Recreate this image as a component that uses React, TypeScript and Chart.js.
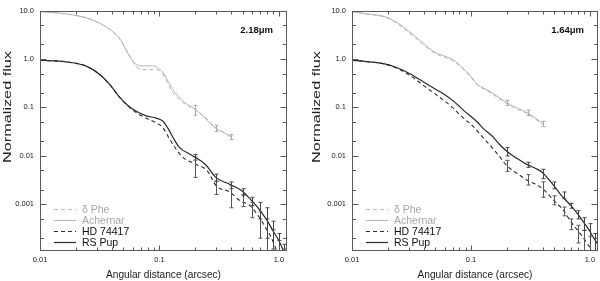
import React, { useEffect, useRef } from 'react';
import { Chart, registerables } from 'chart.js';
Chart.register(...registerables);
Chart.defaults.font.family = '"Liberation Sans", Arial, Helvetica, sans-serif';

// ---- axes ----
const X_MIN = 0.01;
const X_MAX = 1.17;
const Y_MIN = 1.09e-4;
const Y_MAX = 10;
const xTickValues = [0.01, 0.1, 1];
const xTickLabels = ['0.01', '0.1', '1.0'];
const yTickValues = [0.001, 0.01, 0.1, 1, 10];
const yTickLabels = ['0.001', '0.01', '0.1', '1.0', '10.0'];
const seriesLabels = ['δ Phe', 'Achernar', 'HD 74417', 'RS Pup'];
const xTitle = 'Angular distance (arcsec)';
const yTitle = 'Normalized flux';

// ---- 2.18 micron panel ----
const K_phe_x = [0.01, 0.0166, 0.026, 0.0359, 0.0463, 0.056, 0.064, 0.0728, 0.088, 0.1, 0.114, 0.13, 0.158, 0.204, 0.25, 0.3, 0.35, 0.4];
const K_phe_y = [9.5, 8.5, 6.7, 4.5, 2.6, 1.2, 0.7, 0.6, 0.61, 0.58, 0.36, 0.2, 0.125, 0.085, 0.058, 0.037, 0.03, 0.0245];
const K_ach_x = [0.01, 0.0166, 0.026, 0.0359, 0.0463, 0.056, 0.064, 0.0728, 0.088, 0.1, 0.107, 0.122, 0.138, 0.168, 0.204, 0.24, 0.296, 0.35, 0.4];
const K_ach_y = [9.5, 8.5, 6.7, 4.56, 2.66, 1.15, 0.77, 0.72, 0.72, 0.62, 0.53, 0.3, 0.19, 0.12, 0.088, 0.06, 0.037, 0.03, 0.0245];
const K_hd_x = [0.01, 0.0166, 0.0244, 0.0316, 0.0383, 0.0463, 0.0544, 0.064, 0.0776, 0.094, 0.107, 0.122, 0.138, 0.158, 0.2, 0.25, 0.3, 0.388, 0.47, 0.57, 0.69, 0.78, 0.84, 0.96];
const K_hd_y = [0.94, 0.87, 0.71, 0.48, 0.3, 0.163, 0.108, 0.078, 0.06, 0.048, 0.038, 0.022, 0.0137, 0.0092, 0.0068, 0.005, 0.0024, 0.0018, 0.0012, 0.00095, 0.00053, 0.00032, 0.00024, 0.00011];
const K_rs_x = [0.01, 0.0166, 0.0244, 0.0316, 0.0383, 0.0463, 0.0544, 0.064, 0.0776, 0.094, 0.107, 0.114, 0.122, 0.13, 0.147, 0.18, 0.2, 0.245, 0.296, 0.387, 0.49, 0.59, 0.67, 0.78, 0.89, 1.01, 1.1];
const K_rs_y = [0.94, 0.87, 0.71, 0.48, 0.3, 0.163, 0.11, 0.083, 0.067, 0.06, 0.052, 0.042, 0.032, 0.024, 0.015, 0.0108, 0.0093, 0.0065, 0.0036, 0.0026, 0.0019, 0.0012, 0.00085, 0.0005, 0.00029, 0.00017, 0.000105];
const K_err_x = [0.2, 0.3, 0.4, 0.5, 0.6, 0.7, 0.8, 0.9, 1.0, 1.1];
const K_rs_lo = [0.0082, 0.003, 0.0021, 0.0015, 0.00095, 0.0005, 0.0002, 0.00012, 0.0001, 0.00005];
const K_rs_hi = [0.0107, 0.0042, 0.0029, 0.0021, 0.0014, 0.0011, 0.00085, 0.00045, 0.00025, 0.00015];
const K_hd_lo = [0.0036, 0.0016, 0.00085, 0.0009, 0.00053, 0.0002, 0.00005, 0.00005, 0.00005, 0.00005];
const K_hd_hi = [0.0095, 0.003, 0.0024, 0.0016, 0.0011, 0.0007, 0.0005, 0.0003, 0.00018, 0.00012];
const K_ach_err_x = [0.2, 0.3, 0.4];
const K_ach_lo = [0.069, 0.032, 0.0217];
const K_ach_hi = [0.11, 0.043, 0.0273];

// ---- 1.64 micron panel ----
const H_ach_x = [0.01, 0.0134, 0.0185, 0.0224, 0.0272, 0.033, 0.04, 0.0486, 0.056, 0.0716, 0.082, 0.099, 0.113, 0.128, 0.146, 0.2, 0.25, 0.297, 0.35, 0.4];
const H_ach_y = [9.5, 8.5, 7.6, 6.2, 4.55, 3.1, 2.1, 1.42, 1.22, 0.95, 0.72, 0.45, 0.3, 0.25, 0.21, 0.125, 0.095, 0.078, 0.06, 0.047];
const H_phe_x = [0.01, 0.0134, 0.0185, 0.0224, 0.0272, 0.033, 0.04, 0.0486, 0.056, 0.0716, 0.082, 0.099, 0.113, 0.128, 0.146, 0.2, 0.25, 0.297, 0.35, 0.4];
const H_phe_y = [9.5, 8.4, 7.4, 6.0, 4.3, 2.9, 1.95, 1.35, 1.15, 0.9, 0.68, 0.43, 0.29, 0.24, 0.2, 0.12, 0.09, 0.075, 0.057, 0.044];
const H_rs_x = [0.01, 0.0134, 0.0185, 0.024, 0.031, 0.0428, 0.05, 0.059, 0.07, 0.08, 0.09, 0.1, 0.113, 0.128, 0.15, 0.175, 0.2, 0.245, 0.297, 0.35, 0.4, 0.5, 0.58, 0.69, 0.78, 0.89, 0.98, 1.08, 1.17];
const H_rs_y = [0.94, 0.88, 0.8, 0.66, 0.49, 0.3, 0.24, 0.19, 0.14, 0.105, 0.08, 0.065, 0.05, 0.036, 0.026, 0.017, 0.0125, 0.0088, 0.0066, 0.0055, 0.0045, 0.0024, 0.0015, 0.00095, 0.00066, 0.00042, 0.0003, 0.0002, 0.00015];
const H_hd_x = [0.01, 0.0134, 0.0185, 0.024, 0.031, 0.0428, 0.05, 0.059, 0.07, 0.08, 0.09, 0.1, 0.113, 0.128, 0.15, 0.175, 0.2, 0.25, 0.3, 0.35, 0.4, 0.5, 0.6, 0.7, 0.8, 0.9, 1.0, 1.08];
const H_hd_y = [0.94, 0.88, 0.79, 0.64, 0.45, 0.25, 0.19, 0.14, 0.1, 0.072, 0.055, 0.045, 0.033, 0.023, 0.015, 0.0095, 0.0063, 0.0042, 0.0031, 0.0026, 0.0021, 0.0012, 0.00075, 0.00042, 0.00028, 0.00019, 0.00013, 0.0001];
const H_err_x = [0.2, 0.3, 0.4, 0.5, 0.6, 0.7, 0.8, 0.9, 1.0, 1.1];
const H_rs_lo = [0.01, 0.0058, 0.0034, 0.0021, 0.0013, 0.00083, 0.0005, 0.00029, 0.00011, 0.00011];
const H_rs_hi = [0.0148, 0.0074, 0.0053, 0.0029, 0.0018, 0.00105, 0.00074, 0.00053, 0.0004, 0.00025];
const H_hd_lo = [0.0048, 0.0025, 0.0014, 0.00098, 0.00058, 0.0003, 0.00016, 0.00011, 0.00005, 0.00005];
const H_hd_hi = [0.0081, 0.0041, 0.0029, 0.0015, 0.00088, 0.0005, 0.00037, 0.00029, 0.00022, 0.0002];
const H_ach_err_x = [0.2, 0.3, 0.4];
const H_ach_lo = [0.11, 0.068, 0.04];
const H_ach_hi = [0.14, 0.088, 0.052];

// ---- styles ----
const LIGHT = '#b4b4b4';
const LIGHT_TEXT = '#a6a6a6';
const DARK = '#2a2a2a';
const seriesStyles = [
  { color: LIGHT, dash: [4, 3], width: 1, text: LIGHT_TEXT },
  { color: LIGHT, dash: [], width: 1, text: LIGHT_TEXT },
  { color: DARK, dash: [4, 3], width: 1.1, text: '#111' },
  { color: DARK, dash: [], width: 1.2, text: '#111' },
];

const pts = (xs: number[], ys: number[]) => xs.map((x, i) => ({ x, y: ys[i] }));

const panels = [
  {
    wave: '2.18μm',
    yAxisWidth: 40,
    padRight: 13,
    yTitleOffset: 32,
    series: [pts(K_phe_x, K_phe_y), pts(K_ach_x, K_ach_y), pts(K_hd_x, K_hd_y), pts(K_rs_x, K_rs_y)],
    errors: [
      { x: K_ach_err_x, lo: K_ach_lo, hi: K_ach_hi, color: '#a8a8a8' },
      { x: K_err_x, lo: K_hd_lo, hi: K_hd_hi, color: '#555' },
      { x: K_err_x, lo: K_rs_lo, hi: K_rs_hi, color: '#444' },
    ],
  },
  {
    wave: '1.64μm',
    yAxisWidth: 52,
    padRight: 2,
    yTitleOffset: 35,
    series: [pts(H_phe_x, H_phe_y), pts(H_ach_x, H_ach_y), pts(H_hd_x, H_hd_y), pts(H_rs_x, H_rs_y)],
    errors: [
      { x: H_ach_err_x, lo: H_ach_lo, hi: H_ach_hi, color: '#a8a8a8' },
      { x: H_err_x, lo: H_hd_lo, hi: H_hd_hi, color: '#555' },
      { x: H_err_x, lo: H_rs_lo, hi: H_rs_hi, color: '#444' },
    ],
  },
];

const FONT = '"Liberation Sans", Arial, Helvetica, sans-serif';

function drawScaledText(ctx: CanvasRenderingContext2D, text: string, cx: number, cy: number, font: string, targetWidth: number, rotate = false) {
  ctx.save();
  ctx.font = font;
  const w = ctx.measureText(text).width;
  ctx.translate(cx, cy);
  if (rotate) ctx.rotate(-Math.PI / 2);
  ctx.scale(targetWidth / w, 1);
  ctx.textAlign = 'center';
  ctx.textBaseline = 'middle';
  ctx.fillText(text, 0, 0);
  ctx.restore();
}

function makeDecor(panel: any) {
  return {
    id: 'decor',
    afterDatasetsDraw(chart: any) {
      const ctx: CanvasRenderingContext2D = chart.ctx;
      const xs = chart.scales.x;
      const ys = chart.scales.y;
      const { left, right, top, bottom } = chart.chartArea;
      const L = Math.round(left) + 0.5;
      const R = Math.round(right) - 0.5;
      const T = Math.round(top) + 0.5;
      const B = Math.round(bottom) - 0.5;

      // error bars
      ctx.save();
      ctx.beginPath();
      ctx.rect(left, top, right - left, bottom - top);
      ctx.clip();
      ctx.lineWidth = 1;
      for (const e of panel.errors) {
        ctx.strokeStyle = e.color;
        e.x.forEach((xv: number, i: number) => {
          const px = Math.round(xs.getPixelForValue(xv)) + 0.5;
          const p1 = ys.getPixelForValue(e.lo[i]);
          const p2 = ys.getPixelForValue(e.hi[i]);
          ctx.beginPath();
          ctx.moveTo(px, p1);
          ctx.lineTo(px, p2);
          ctx.moveTo(px - 2, p1);
          ctx.lineTo(px + 2, p1);
          ctx.moveTo(px - 2, p2);
          ctx.lineTo(px + 2, p2);
          ctx.stroke();
        });
      }
      ctx.restore();

      // frame
      ctx.save();
      ctx.strokeStyle = '#5a5a5a';
      ctx.lineWidth = 1;
      ctx.strokeRect(L, T, R - L, B - T);

      // ticks
      ctx.beginPath();
      for (let d = -2; d <= 0; d++) {
        for (let k = 1; k <= 9; k++) {
          const v = k * Math.pow(10, d);
          if (v < X_MIN - 1e-9 || v > X_MAX) continue;
          const len = k === 1 ? 5 : 3;
          const px = Math.round(xs.getPixelForValue(v)) + 0.5;
          ctx.moveTo(px, B);
          ctx.lineTo(px, B - len);
          ctx.moveTo(px, T);
          ctx.lineTo(px, T + len);
        }
      }
      for (let d = -4; d <= 1; d++) {
        for (const k of [1, 2, 5]) {
          const v = k * Math.pow(10, d);
          if (v < Y_MIN || v > Y_MAX + 1e-9) continue;
          const len = k === 1 ? 6 : 3.5;
          const py = Math.round(ys.getPixelForValue(v)) + 0.5;
          ctx.moveTo(L, py);
          ctx.lineTo(L + len, py);
          ctx.moveTo(R, py);
          ctx.lineTo(R - len, py);
        }
      }
      ctx.stroke();
      ctx.restore();

      // legend
      ctx.save();
      chart.data.datasets.forEach((ds: any, i: number) => {
        const st = seriesStyles[i];
        const y = Math.round(top + 198.5 + i * 11) + 0.5;
        ctx.strokeStyle = st.color;
        ctx.lineWidth = st.width;
        ctx.setLineDash(st.dash);
        ctx.beginPath();
        ctx.moveTo(left + 14, y);
        ctx.lineTo(left + 36, y);
        ctx.stroke();
        ctx.setLineDash([]);
        ctx.fillStyle = st.text;
        ctx.font = `10.5px ${FONT}`;
        ctx.textAlign = 'left';
        ctx.textBaseline = 'middle';
        ctx.fillText(ds.label, left + 42, y + 0.5);
      });
      ctx.restore();

      // wavelength label
      ctx.save();
      ctx.fillStyle = '#111';
      ctx.font = `bold 9.5px ${FONT}`;
      ctx.textAlign = 'right';
      ctx.textBaseline = 'middle';
      ctx.fillText(panel.wave, right - 14, top + 20);
      ctx.restore();

      // axis titles
      ctx.save();
      ctx.fillStyle = '#222';
      drawScaledText(ctx, xTitle, (left + right) / 2, 275, `11px ${FONT}`, 115);
      drawScaledText(ctx, yTitle, left - panel.yTitleOffset, 107, `10.5px ${FONT}`, 112, true);
      ctx.restore();
    },
  };
}

function Panel({ panel }: { panel: any }) {
  const ref = useRef<HTMLCanvasElement | null>(null);
  useEffect(() => {
    if (!ref.current) return;
    const chart = new Chart(ref.current, {
      type: 'line',
      data: {
        datasets: panel.series.map((data: any, i: number) => ({
          label: seriesLabels[i],
          data,
          borderColor: seriesStyles[i].color,
          borderWidth: seriesStyles[i].width,
          borderDash: seriesStyles[i].dash,
          pointRadius: 0,
          fill: false,
          cubicInterpolationMode: 'monotone',
          clip: 0,
        })),
      },
      options: {
        animation: false,
        responsive: false,
        events: [],
        layout: { padding: { left: 0, right: panel.padRight, top: 5, bottom: 0 } },
        plugins: { legend: { display: false }, tooltip: { enabled: false } },
        scales: {
          x: {
            type: 'logarithmic',
            min: X_MIN,
            max: X_MAX,
            grid: { display: false, drawTicks: false },
            border: { display: false },
            afterBuildTicks: (s: any) => {
              s.ticks = xTickValues.map((v) => ({ value: v }));
            },
            afterFit: (s: any) => {
              s.height = 30;
            },
            ticks: {
              autoSkip: false,
              maxRotation: 0,
              padding: 4,
              color: '#222',
              font: { size: 7.5 },
              callback: (_v: any, i: number) => xTickLabels[i],
            },
          },
          y: {
            type: 'logarithmic',
            min: Y_MIN,
            max: Y_MAX,
            grid: { display: false, drawTicks: false },
            border: { display: false },
            afterBuildTicks: (s: any) => {
              s.ticks = yTickValues.map((v) => ({ value: v }));
            },
            afterFit: (s: any) => {
              s.width = panel.yAxisWidth;
            },
            ticks: {
              autoSkip: false,
              padding: 6,
              color: '#222',
              font: { size: 7.5 },
              callback: (_v: any, i: number) => yTickLabels[i],
            },
          },
        },
      } as any,
      plugins: [makeDecor(panel)],
    });
    return () => chart.destroy();
  }, [panel]);
  return <canvas ref={ref} width={300} height={281} style={{ display: 'block', width: 300, height: 281 }} />;
}

export default function App() {
  return (
    <div style={{ position: 'absolute', left: 0, top: 0, width: 600, height: 281, display: 'flex', background: '#fff' }}>
      {panels.map((p, i) => (
        <Panel key={i} panel={p} />
      ))}
    </div>
  );
}
